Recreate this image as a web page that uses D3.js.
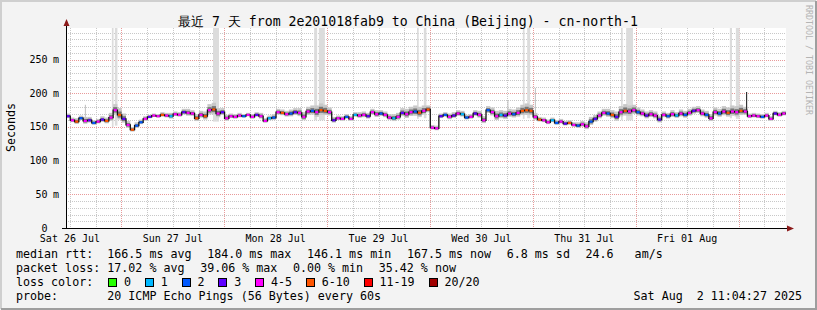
<!DOCTYPE html>
<html><head><meta charset="utf-8">
<script src="https://cdn.jsdelivr.net/npm/d3@7"></script>
<style>
html,body{margin:0;padding:0;background:#f3f3f3;}
svg{display:block;}
text{font-family:"DejaVu Sans Mono", monospace;fill:#000;}
</style></head><body>
<svg id="c" width="817" height="310"></svg>
<script>
// ---------------- data ----------------
const titleText = "最近 7 天 from 2e201018fab9 to China (Beijing) - cn-north-1";
const startTime = Date.UTC(2025, 6, 26, 11, 4, 27);
const endTime = Date.UTC(2025, 7, 2, 11, 4, 27);
const yMax = 297;
const yMajorTicks = [0, 50, 100, 150, 200, 250];

// hourly median RTT (ms)
const median = [
 166,160,158,163,159,160,156,158,161,159,
 164,175,168,162,153,146,152,157,162,165,
 167,166,168,167,166,169,168,172,171,170,
 163,168,166,175,176,170,172,163,166,165,
 167,166,168,165,168,166,159,163,164,172,
 171,169,170,172,171,165,173,174,172,175,
 174,172,160,163,162,165,162,168,167,168,
 166,172,169,170,168,164,163,165,171,169,
 172,173,171,174,176,149,148,166,168,165,
 167,170,169,164,165,170,168,160,175,172,
 166,168,167,170,169,171,174,175,174,165,
 161,160,157,160,156,158,155,156,153,152,
 154,151,158,162,167,171,170,168,165,172,
 174,173,175,172,170,167,169,167,161,168,
 166,169,167,170,168,171,174,175,170,168,
 163,172,170,173,171,173,172,174,173,166,
 167,166,165,167,162,170,168,170
];
// loss class per hour (index into lossColors)
const loss = [
 3,4,5,2,4,3,2,4,3,5,
 4,4,5,3,4,5,2,2,4,3,
 4,4,5,4,1,4,4,3,4,4,
 5,4,5,4,5,4,3,4,4,4,
 4,2,4,4,3,4,4,1,2,4,
 5,4,2,3,4,4,4,2,4,5,
 5,4,3,4,4,2,4,1,4,4,
 3,4,4,2,4,4,1,4,3,4,
 4,2,5,4,5,4,4,3,2,4,
 3,4,1,2,4,3,4,4,2,4,
 4,1,3,4,2,4,5,5,5,4,
 5,4,4,1,2,4,3,5,4,2,
 4,4,2,3,4,4,2,5,3,4,
 5,4,4,2,4,3,4,4,3,4,
 2,4,1,4,2,4,3,4,4,2,
 4,4,2,4,5,4,4,5,4,4,
 4,4,2,4,4,3,4,4
];
// smoke spread around the median (ms)
const spread = [
 4,4,5,4,6,5,4,4,5,5,
 7,9,10,8,6,4,5,4,4,3,
 3,3,4,4,5,4,4,5,6,5,
 6,6,7,9,10,8,6,5,4,4,
 4,3,3,4,4,5,4,4,5,5,
 5,5,6,6,7,7,7,8,10,10,
 9,7,5,4,4,4,4,4,5,5,
 5,5,6,5,5,5,6,6,7,8,
 8,9,9,8,6,4,4,4,4,5,
 5,5,5,4,4,5,6,6,6,7,
 8,7,7,7,7,8,9,10,9,6,
 4,4,4,4,4,4,4,4,4,5,
 5,6,7,6,6,6,7,7,8,9,
 10,9,8,7,6,6,6,6,6,5,
 5,6,5,6,6,6,6,6,6,6,
 6,7,7,8,8,9,9,9,7,4,
 4,4,4,4,4,4,4,4
];
// tall light smoke columns (hour offsets) and their lower ends (ms)
const barStart = [10.7, 11.4, 34.3, 57.9, 59.0, 81.9, 83.5, 106.6, 107.6, 129.5, 130.7, 154.9, 156.3];
const barEnd   = [11.1, 12.0, 35.7, 58.6, 60.4, 82.3, 84.1, 107.0, 108.3, 129.9, 132.3, 155.4, 157.2];
const barLow   = [150, 152, 158, 160, 160, 162, 163, 162, 163, 160, 160, 163, 162];
// single outlier pings (hour offset, top ms)
const outlierAt  = [4.4, 103.0, 109.4];
const outlierTop = [183, 190, 208];
const outlierLow = [165, 166, 162];
// dark spike
const spikeAt = [158.8];
const spikeTop = [202];

const lossColors = ["#26ff00","#00b8ff","#0059ff","#5e00ff","#ff00ff","#ff5500","#ff0000","#a10000"];
const lossLabels = ["0","1","2","3","4-5","6-10","11-19","20/20"];
const rttLegend = ["166.5 ms avg","184.0 ms max","146.1 ms min","167.5 ms now","6.8 ms sd","24.6   am/s"];
const lossLegend = ["17.02 % avg","39.06 % max","0.00 % min","35.42 % now"];
const probeText = "20 ICMP Echo Pings (56 Bytes) every 60s";
const dateText = "Sat Aug  2 11:04:27 2025";

// ---------------- drawing ----------------
const W = 817, H = 310;
const svg = d3.select("#c");
const HOUR = 3600e3;
const x = d3.scaleUtc().domain([startTime, endTime]).range([66, 786]);
const y = d3.scaleLinear().domain([0, yMax]).range([228, 28]);
const tH = h => x(startTime + h * HOUR);
const keep = s => s.replace(/ /g, "\u00a0");

// frame
svg.append("rect").attr("x",0).attr("y",0).attr("width",W).attr("height",H).attr("fill","#f3f3f3");
svg.append("path").attr("d",`M1,${H-1}V1H${W-1}`).attr("stroke","#cfcfcf").attr("stroke-width",2).attr("fill","none");
svg.append("path").attr("d",`M1,${H-1}H${W-1}V1`).attr("stroke","#9e9e9e").attr("stroke-width",2).attr("fill","none");

// canvas
svg.append("rect").attr("x",66).attr("y",28).attr("width",720).attr("height",200).attr("fill","#fff");

const grid = svg.append("g");
d3.range(10, yMax, 10).filter(v => v % 50 !== 0).forEach(v => {
  grid.append("line").attr("x1",66).attr("x2",786).attr("y1",Math.round(y(v))+0.5).attr("y2",Math.round(y(v))+0.5)
    .attr("stroke","#c8c8c8").attr("stroke-dasharray","1,1");
});
d3.utcHour.every(6).range(new Date(startTime), new Date(endTime)).forEach(t => {
  if (t.getUTCHours() === 0) return;
  const px = Math.round(x(t)) + 0.5;
  grid.append("line").attr("x1",px).attr("x2",px).attr("y1",28).attr("y2",228)
    .attr("stroke","#c8c8c8").attr("stroke-dasharray","1,1");
});
yMajorTicks.filter(v => v > 0).forEach(v => {
  grid.append("line").attr("x1",66).attr("x2",786).attr("y1",Math.round(y(v))+0.5).attr("y2",Math.round(y(v))+0.5)
    .attr("stroke","#e89a9a").attr("stroke-dasharray","1,1");
});
d3.utcDay.range(new Date(startTime), new Date(endTime)).forEach(t => {
  const px = Math.round(x(t)) + 0.5;
  grid.append("line").attr("x1",px).attr("x2",px).attr("y1",28).attr("y2",228)
    .attr("stroke","#e89a9a").attr("stroke-dasharray","1,1");
});

const data = svg.append("g");
barStart.forEach((s, i) => {
  data.append("rect").attr("x", tH(s)).attr("width", Math.max(1, tH(barEnd[i]) - tH(s)))
    .attr("y", y(yMax)).attr("height", y(barLow[i]) - y(yMax)).attr("fill", "#dcdcdc");
});
outlierAt.forEach((s, i) => {
  data.append("rect").attr("x", tH(s)).attr("width", 1)
    .attr("y", y(outlierTop[i])).attr("height", y(outlierLow[i]) - y(outlierTop[i])).attr("fill", "#bdbdbd");
});
median.forEach((m, i) => {
  const x0 = tH(i), x1 = tH(i + 1);
  data.append("rect").attr("x", x0).attr("width", x1 - x0)
    .attr("y", y(m + spread[i])).attr("height", y(m - spread[i] * 0.7) - y(m + spread[i])).attr("fill", "#c8c8c8");
  data.append("rect").attr("x", x0).attr("width", x1 - x0)
    .attr("y", y(m + spread[i] * 0.5)).attr("height", y(m - spread[i] * 0.4) - y(m + spread[i] * 0.5)).attr("fill", "#777");
});
const pts = median.map((m, i) => [tH(i), y(m)]);
pts.push([tH(median.length), y(median[median.length - 1])]);
data.append("path").attr("d", d3.line().curve(d3.curveStepAfter)(pts))
  .attr("fill","none").attr("stroke","#111").attr("stroke-width",1.3);
spikeAt.forEach((s, i) => {
  data.append("line").attr("x1", tH(s)).attr("x2", tH(s)).attr("y1", y(spikeTop[i])).attr("y2", y(median[Math.floor(s)]))
    .attr("stroke","#333").attr("stroke-width",1.2);
});
median.forEach((m, i) => {
  const x0 = tH(i), x1 = tH(i + 1);
  data.append("line").attr("x1", x0 + 0.6).attr("x2", x1 - 0.6).attr("y1", y(m)).attr("y2", y(m))
    .attr("stroke", lossColors[loss[i]]).attr("stroke-width", 2.2);
});

// axes
svg.append("line").attr("x1",66.5).attr("x2",66.5).attr("y1",228).attr("y2",24).attr("stroke","#000");
svg.append("line").attr("x1",62).attr("x2",789).attr("y1",228.5).attr("y2",228.5).attr("stroke","#000");
svg.append("path").attr("d","M63.5,26 L69.5,26 L66.5,19 Z").attr("fill","#8b1a1a");
svg.append("path").attr("d","M787,225.5 L787,231.5 L794,228.5 Z").attr("fill","#8b1a1a");

const yl = svg.append("g").attr("font-size","10px");
yMajorTicks.forEach(v => {
  yl.append("text").attr("x", 47.5).attr("y", y(v) + 3.5).attr("text-anchor","end").text(String(v));
  if (v > 0) yl.append("text").attr("x", 53).attr("y", y(v) + 3.5).text("m");
});
const fmt = d3.utcFormat("%a %d %b");
d3.utcDay.range(new Date(startTime - 12*HOUR), new Date(endTime)).forEach(d => {
  const noon = new Date(+d + 12 * HOUR);
  if (noon < startTime || noon > endTime) return;
  yl.append("text").attr("x", x(noon)).attr("y", 242).attr("text-anchor","middle").text(fmt(noon));
});

svg.append("text").attr("x", 408).attr("y", 26).attr("text-anchor","middle").attr("font-size","13.2px")
  .text(titleText);
svg.append("text").attr("transform","translate(14.5,127.5) rotate(-90)").attr("text-anchor","middle")
  .attr("font-size","11.67px").text("Seconds");
svg.append("text").attr("transform","translate(805.5,5) rotate(90)").attr("font-size","8.3px")
  .style("fill","#b4b4b4").text("RRDTOOL / TOBI OETIKER");

const CW = 7.03;
const lg = svg.append("g").attr("font-size","11.67px");
const rows = [258, 272, 286, 300];
lg.append("text").attr("x",16).attr("y",rows[0]).text("median rtt:");
lg.append("text").attr("x",16).attr("y",rows[1]).text("packet loss:");
lg.append("text").attr("x",16).attr("y",rows[2]).text("loss color:");
lg.append("text").attr("x",16).attr("y",rows[3]).text("probe:");
let px = 107.3;
rttLegend.forEach(s => { lg.append("text").attr("x",px).attr("y",rows[0]).text(keep(s)); px += s.length * CW + 15.5; });
px = 107.3;
lossLegend.forEach(s => { lg.append("text").attr("x",px).attr("y",rows[1]).text(keep(s)); px += s.length * CW + 15.5; });
px = 108.3;
lossLabels.forEach((s, i) => {
  lg.append("rect").attr("x", Math.round(px)+0.5).attr("y", 278.5).attr("width", 8).attr("height", 8)
    .attr("fill", lossColors[i]).attr("stroke","#000");
  lg.append("text").attr("x", px + 15.7).attr("y", rows[2]).text(s);
  px += 29.7 + s.length * CW;
});
lg.append("text").attr("x",107.3).attr("y",rows[3]).text(keep(probeText));
lg.append("text").attr("x",802).attr("y",rows[3]).attr("text-anchor","end").text(keep(dateText));
</script>
</body></html>
